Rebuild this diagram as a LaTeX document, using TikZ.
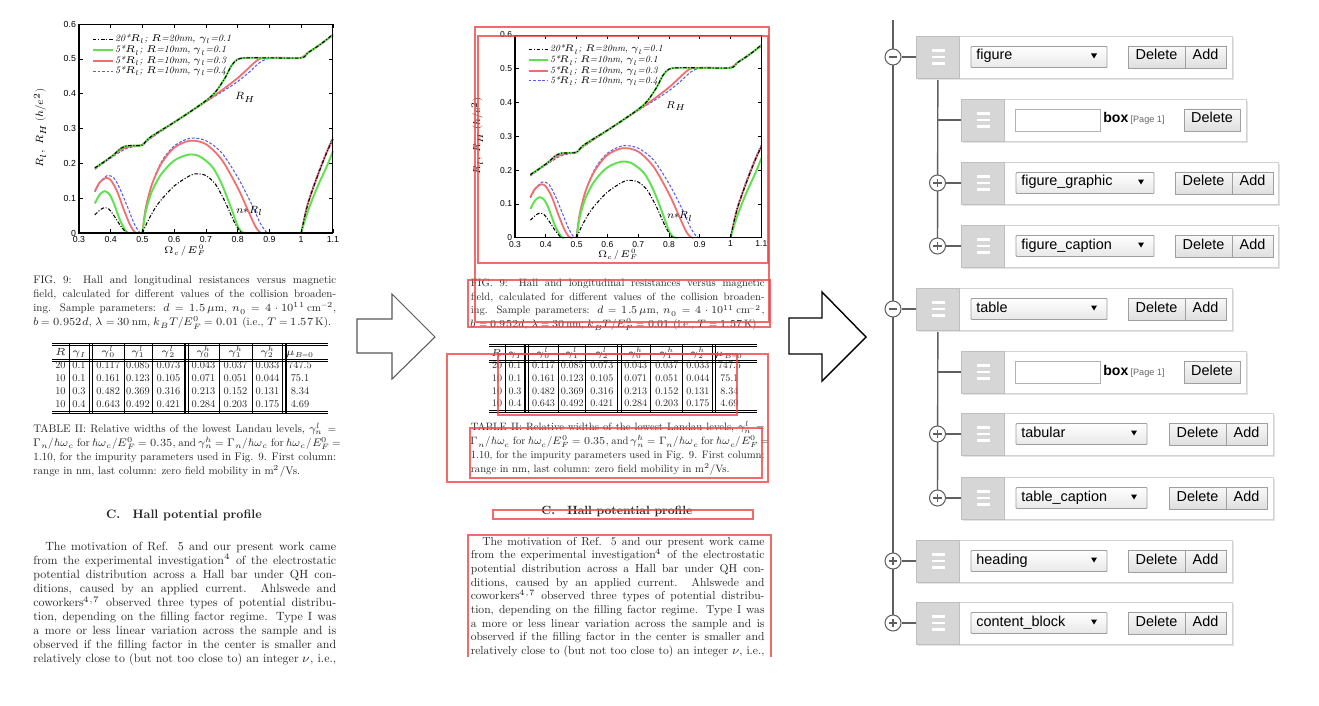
\documentclass[tikz,border=0pt]{standalone}
\usepackage{fontspec}
\usepackage{unicode-math}
\setmainfont{lmroman10-regular.otf}[BoldFont=lmroman10-bold.otf, ItalicFont=lmroman10-italic.otf, BoldItalicFont=lmroman10-bolditalic.otf]
\setmathfont{Latin Modern Math}
\newfontfamily\uifont{Liberation Sans}
\usetikzlibrary{backgrounds}
\definecolor{pgreen}{RGB}{95,225,80}
\definecolor{pred}{RGB}{240,110,110}
\definecolor{pblue}{RGB}{90,90,235}
\definecolor{boxred}{RGB}{238,70,70}
\definecolor{hgray}{RGB}{214,214,214}
\definecolor{tline}{RGB}{95,95,95}
\newlength\lw \setlength\lw{172.4pt}
\newcommand\jline[1]{\hbox to\lw{#1}}
\newcommand\lline[1]{\hbox to\lw{#1\hfil}}
\pgfdeclarelayer{bottom}
\pgfsetlayers{bottom,background,main}
\tikzset{
 ptxt/.style={anchor=base west, inner sep=0, font=\fontsize{6.8}{8}\selectfont, text=black!85},
 ctxt/.style={anchor=base west, inner sep=0, font=\fontsize{6.25}{8}\selectfont, text=black!85},
 tcell/.style={anchor=base, inner sep=0, font=\fontsize{5.9}{7}\selectfont, text=black!85},
 tick/.style={font=\uifont\fontsize{5}{6}\selectfont, inner sep=1pt},
 leg/.style={anchor=west, inner sep=0, font=\fontsize{5.6}{6}\selectfont\itshape},
 dashdot/.style={line width=0.6pt, dash pattern=on 2pt off 1pt on 0.6pt off 1pt},
 bdash/.style={pblue, line width=0.6pt, dash pattern=on 1.6pt off 1pt},
 handle/.style={rectangle, fill=hgray, draw=gray!50, line width=0.4pt, minimum width=0.86cm, minimum height=0.84cm, inner sep=0},
 panel/.style={draw=gray!35, fill=white, line width=0.5pt},
 sel/.style={draw=gray!75, line width=0.5pt, top color=white, bottom color=gray!18, rounded corners=0.5pt},
 btn/.style={draw=gray!75, line width=0.5pt, top color=gray!5, bottom color=gray!25},
 uitext/.style={font=\uifont\fontsize{8.2}{9}\selectfont, inner sep=0},
 tcirc/.style={circle, draw=gray!75!black, fill=white, line width=0.6pt, minimum size=0.32cm, inner sep=0},
 treeline/.style={draw=tline, line width=0.8pt},
 rbox/.style={draw=boxred, line width=0.85pt, draw opacity=0.8},
 blockarrow/.style={line width=0.6pt, fill=white}
}
\newcommand\minussym[1]{\draw[tline, line width=0.7pt] ([xshift=-2.4pt]#1.center) -- ([xshift=2.4pt]#1.center);}
\newcommand\plussym[1]{\draw[tline, line width=0.7pt] ([xshift=-2.4pt]#1.center) -- ([xshift=2.4pt]#1.center) ([yshift=-2.4pt]#1.center) -- ([yshift=2.4pt]#1.center);}
\newcommand\hamb[2]{\foreach \dy in {-6.5,0,6.5} \draw[white, line width=1.3pt] (#1+15.5,#2+\dy) -- (#1+28.5,#2+\dy);}
% name, y, hx, panel right, select right, label, delete left, add right
\newcommand\uirow[8]{%
 \fill[gray!22] (#3+2,#2-19) rectangle (#4+1.5,#2+23);
 \draw[panel] (#3+43,#2-21) rectangle (#4,#2+21);
 \node[handle, anchor=west] (h#1) at (#3,#2) {};
 \hamb{#3}{#2}
 \draw[sel] (#3+55,#2-10.5) rectangle (#5,#2+10.5);
 \node[uitext, anchor=base west] (s#1) at (#3+60,#2+3) {#6};
 \fill (#5-16,#2-3.5) -- (#5-10,#2-3.5) -- (#5-13,#2+1.5) -- cycle;
 \draw[btn] (#7,#2-11) rectangle (#7+57,#2+11);
 \draw[btn] (#7+57,#2-11) rectangle (#8,#2+11);
 \node[uitext, anchor=base] (d#1) at (#7+28.5,#2+3) {Delete};
 \node[uitext, anchor=base] (a#1) at ({(#7+57+#8)/2},#2+3) {Add};
}
% name, y, hx, panel right, delete left
\newcommand\boxrow[5]{%
 \fill[gray!22] (#3+2,#2-19) rectangle (#4+1.5,#2+23);
 \draw[panel] (#3+43,#2-21) rectangle (#4,#2+21);
 \node[handle, anchor=west] (h#1) at (#3,#2) {};
 \hamb{#3}{#2}
 \draw[draw=gray!60, fill=white, line width=0.5pt] (#3+54,#2-11) rectangle (#3+139,#2+11);
 \node[font=\uifont\bfseries\fontsize{8}{9}\selectfont, anchor=base west, inner sep=0] (b#1) at (#3+142,#2+3) {box};
 \node[font=\uifont\fontsize{5.2}{6}\selectfont, text=gray!80!black, anchor=base west, inner sep=0] (p#1) at (b#1.base east) {\,[Page 1]};
 \draw[btn] (#5,#2-11) rectangle (#5+56,#2+11);
 \node[uitext, anchor=base] (d#1) at (#5+28,#2+3) {Delete};
}
\newcommand\paperpage[1]{%
 \begin{scope}[shift={(-16.25,233)}, x=6.35cm, y=6.966cm]
  % upper curves
  \draw[bdash] plot[smooth] coordinates {(0.35,0.183) (0.40,0.215) (0.45,0.243) (0.50,0.252) (0.52,0.268) (0.60,0.317) (0.70,0.377) (0.75,0.405) (0.80,0.435) (0.84,0.465) (0.87,0.49) (0.9,0.502) (0.95,0.503) (1.0,0.503) (1.02,0.517) (1.05,0.535) (1.08,0.555) (1.1,0.57)};
  \draw[pred, line width=1pt] plot[smooth] coordinates {(0.35,0.185) (0.40,0.218) (0.44,0.243) (0.47,0.250) (0.50,0.253) (0.52,0.270) (0.60,0.318) (0.70,0.378) (0.75,0.41) (0.80,0.445) (0.83,0.47) (0.86,0.495) (0.88,0.502) (0.95,0.503) (1.0,0.503) (1.02,0.517) (1.05,0.535) (1.08,0.555) (1.1,0.568)};
  \draw[pgreen, line width=1.1pt] plot[smooth] coordinates {(0.35,0.187) (0.38,0.205) (0.41,0.225) (0.43,0.242) (0.45,0.25) (0.48,0.251) (0.50,0.253) (0.52,0.272) (0.55,0.29) (0.60,0.318) (0.65,0.348) (0.70,0.38) (0.73,0.405) (0.76,0.445) (0.78,0.48) (0.80,0.499) (0.83,0.503) (0.9,0.503) (1.0,0.503) (1.02,0.517) (1.05,0.535) (1.08,0.555) (1.1,0.568)};
  \draw[dashdot] plot[smooth] coordinates {(0.35,0.187) (0.38,0.205) (0.41,0.225) (0.43,0.242) (0.45,0.25) (0.48,0.251) (0.50,0.253) (0.52,0.272) (0.55,0.29) (0.60,0.318) (0.65,0.348) (0.70,0.38) (0.73,0.405) (0.76,0.445) (0.78,0.48) (0.80,0.499) (0.83,0.503) (0.9,0.503) (1.0,0.503) (1.02,0.517) (1.05,0.535) (1.08,0.555) (1.1,0.572)};
  % lower curves: blue
  \draw[bdash] plot[smooth] coordinates {(0.35,0.118) (0.37,0.15) (0.39,0.165) (0.41,0.158) (0.43,0.125) (0.455,0.07) (0.475,0.025) (0.49,0.003) (0.495,0)};
  \draw[bdash] plot[smooth] coordinates {(0.5,0) (0.51,0.07) (0.53,0.14) (0.56,0.205) (0.6,0.25) (0.65,0.272) (0.7,0.265) (0.75,0.23) (0.8,0.16) (0.84,0.09) (0.87,0.03) (0.89,0.003) (0.9,0)};
  \draw[bdash] plot[smooth] coordinates {(1.0,0) (1.02,0.085) (1.05,0.165) (1.08,0.235) (1.1,0.275)};
  % red
  \draw[pred, line width=1pt] plot[smooth] coordinates {(0.35,0.12) (0.365,0.145) (0.385,0.158) (0.40,0.152) (0.42,0.12) (0.44,0.07) (0.46,0.025) (0.475,0.003) (0.485,0)};
  \draw[pred, line width=1pt] plot[smooth] coordinates {(0.5,0) (0.51,0.07) (0.53,0.14) (0.56,0.2) (0.6,0.245) (0.65,0.265) (0.7,0.255) (0.75,0.21) (0.8,0.13) (0.83,0.07) (0.855,0.02) (0.87,0.002) (0.88,0)};
  \draw[pred, line width=1pt] plot[smooth] coordinates {(1.0,0) (1.02,0.08) (1.05,0.16) (1.08,0.23) (1.1,0.27)};
  % green
  \draw[pgreen, line width=1.1pt] plot[smooth] coordinates {(0.35,0.085) (0.365,0.11) (0.38,0.12) (0.395,0.112) (0.41,0.085) (0.43,0.035) (0.45,0.003) (0.46,0)};
  \draw[pgreen, line width=1.1pt] plot[smooth] coordinates {(0.5,0) (0.51,0.06) (0.53,0.12) (0.56,0.17) (0.6,0.208) (0.645,0.225) (0.68,0.22) (0.72,0.19) (0.75,0.14) (0.78,0.07) (0.8,0.02) (0.815,0.002) (0.83,0)};
  \draw[pgreen, line width=1.1pt] plot[smooth] coordinates {(1.0,0) (1.02,0.06) (1.05,0.13) (1.08,0.19) (1.1,0.235)};
  % black dash-dot
  \draw[dashdot] plot[smooth] coordinates {(0.35,0.052) (0.365,0.065) (0.38,0.073) (0.395,0.068) (0.41,0.05) (0.43,0.022) (0.445,0.005) (0.455,0)};
  \draw[dashdot] plot[smooth] coordinates {(0.5,0) (0.52,0.04) (0.55,0.085) (0.6,0.135) (0.65,0.165) (0.67,0.17) (0.7,0.165) (0.73,0.14) (0.76,0.09) (0.79,0.03) (0.81,0.002) (0.82,0)};
  \draw[dashdot] plot[smooth] coordinates {(1.0,0) (1.02,0.08) (1.05,0.16) (1.08,0.23) (1.1,0.27)};
  % frame and ticks
  \draw[line width=0.6pt] (0.3,0) rectangle (1.1,0.6);
  \foreach \t [count=\k] in {0.3,0.4,0.5,0.6,0.7,0.8,0.9,1,1.1} {
   \draw[line width=0.4pt] (\t,0) -- ++(0,0.012) (\t,0.6) -- ++(0,-0.012);
   \node[tick, anchor=north] (#1xt\k) at (\t,-0.004) {\t};}
  \foreach \t [count=\k] in {0,0.1,0.2,0.3,0.4,0.5,0.6} {
   \draw[line width=0.4pt] (0.3,\t) -- ++(0.012,0) (1.1,\t) -- ++(-0.012,0);
   \node[tick, anchor=east] (#1yt\k) at (0.297,\t) {\t};}
  % legend
  \draw[dashdot] (0.344,0.557) -- (0.407,0.557);
  \node[leg] (#1l1) at (0.413,0.557) {20*$R_l$; $R$=20nm, $\gamma_l$=0.1};
  \draw[pgreen, line width=1.1pt] (0.344,0.525) -- (0.407,0.525);
  \node[leg] (#1l2) at (0.413,0.525) {5*$R_l$; $R$=10nm, $\gamma_l$=0.1};
  \draw[pred, line width=1pt] (0.344,0.494) -- (0.407,0.494);
  \node[leg] (#1l3) at (0.413,0.494) {5*$R_l$; $R$=10nm, $\gamma_l$=0.3};
  \draw[bdash] (0.344,0.465) -- (0.407,0.465);
  \node[leg] (#1l4) at (0.413,0.465) {5*$R_l$; $R$=10nm, $\gamma_l$=0.4};
  \node[font=\fontsize{6}{7}\selectfont] (#1rh) at (0.823,0.39) {$R_H$};
  \node[font=\fontsize{6}{7}\selectfont] (#1nr) at (0.838,0.063) {$n{*}R_l$};
  \node[font=\fontsize{5.6}{7}\selectfont, inner sep=0] (#1xl) at (0.634,-0.05) {$\Omega_c\,/\,E_F^{\,0}$};
  \node[rotate=90, font=\fontsize{6}{7}\selectfont] (#1yl) at (0.177,0.301) {$R_l,\ R_H\ (h/e^2)$};
 \end{scope}
 % figure caption
 \node[ctxt] (#1c1) at (33,283) {\jline{FIG. 9: Hall and longitudinal resistances versus magnetic}};
 \node[ctxt] (#1c2) at (33,297.3) {\jline{field, calculated for different values of the collision broaden-}};
 \node[ctxt] (#1c3) at (33,311.6) {\jline{ing. Sample parameters: $d = 1.5\,\mu$m, $n_0 = 4\cdot10^{11}\,$cm$^{-2}$,}};
 \node[ctxt] (#1c4) at (33,325.9) {\lline{$b = 0.952d$, $\lambda = 30$\,nm, $k_BT/E_F^0 = 0.01$ (i.e., $T = 1.57$\,K).}};
 % table rules
 \draw[line width=0.5pt] (52,343) -- (328,343) (52,345.3) -- (328,345.3)
   (52,359.5) -- (328,359.5) (52,361.7) -- (328,361.7)
   (52,411.3) -- (328,411.3) (52,413.5) -- (328,413.5);
 \foreach \vx in {69,124,152,219,252} \draw[line width=0.5pt] (\vx,343) -- (\vx,413.5);
 \foreach \vx in {89.3,92.7,185,188.3,282.7,286} \draw[line width=0.6pt] (\vx,343) -- (\vx,413.5);
 \foreach \v/\x [count=\k] in {{$R$}/60.5,{$\gamma_I$}/79,{$\gamma_0^l$}/108.3,{$\gamma_1^l$}/138,{$\gamma_2^l$}/168.5,{$\gamma_0^h$}/203.5,{$\gamma_1^h$}/235.5,{$\gamma_2^h$}/267.5,{$\mu_{B=0}$}/300}
   \node[tcell] (#1h\k) at (\x,355) {\v};
 \foreach \v/\x [count=\k] in {20/60.5,0.1/79,0.117/108.3,0.085/138,0.073/168.5,0.043/203.5,0.037/235.5,0.033/267.5,747.5/300}
   \node[tcell] (#1a\k) at (\x,368) {\v};
 \foreach \v/\x [count=\k] in {10/60.5,0.1/79,0.161/108.3,0.123/138,0.105/168.5,0.071/203.5,0.051/235.5,0.044/267.5,75.1/300}
   \node[tcell] (#1b\k) at (\x,381) {\v};
 \foreach \v/\x [count=\k] in {10/60.5,0.3/79,0.482/108.3,0.369/138,0.316/168.5,0.213/203.5,0.152/235.5,0.131/267.5,8.34/300}
   \node[tcell] (#1c\k) at (\x,394.5) {\v};
 \foreach \v/\x [count=\k] in {10/60.5,0.4/79,0.643/108.3,0.492/138,0.421/168.5,0.284/203.5,0.203/235.5,0.175/267.5,4.69/300}
   \node[tcell] (#1d\k) at (\x,407.5) {\v};
 % table caption
 \node[ctxt] (#1t1) at (33,432) {\jline{TABLE II: Relative widths of the lowest Landau levels, $\gamma_n^l$ =}};
 \node[ctxt] (#1t2) at (33,446.2) {\jline{$\Gamma_n/\hbar\omega_c$ for $\hbar\omega_c/E_F^0 = 0.35$, and $\gamma_n^h = \Gamma_n/\hbar\omega_c$ for $\hbar\omega_c/E_F^0$ =}};
 \node[ctxt] (#1t3) at (33,460.4) {\jline{1.10, for the impurity parameters used in Fig. 9. First column:}};
 \node[ctxt] (#1t4) at (33,474.6) {\lline{range in nm, last column: zero field mobility in m$^2$/Vs.}};
 % heading
 \node[anchor=base, inner sep=0, font=\fontsize{7}{8}\selectfont\bfseries, text=black!85] (#1hd) at (184,518) {C.\quad Hall potential profile};
 % paragraph
 \node[ptxt] (#1p1) at (33,550) {\jline{\hspace*{1em}The motivation of Ref. 5 and our present work came}};
 \node[ptxt] (#1p2) at (33,564.1) {\jline{from the experimental investigation$^4$ of the electrostatic}};
 \node[ptxt] (#1p3) at (33,578.2) {\jline{potential distribution across a Hall bar under QH con-}};
 \node[ptxt] (#1p4) at (33,592.3) {\jline{ditions, caused by an applied current.\ \ Ahlswede and}};
 \node[ptxt] (#1p5) at (33,606.4) {\jline{coworkers$^{4,7}$ observed three types of potential distribu-}};
 \node[ptxt] (#1p6) at (33,620.5) {\jline{tion, depending on the filling factor regime. Type I was}};
 \node[ptxt] (#1p7) at (33,634.6) {\jline{a more or less linear variation across the sample and is}};
 \node[ptxt] (#1p8) at (33,648.7) {\jline{observed if the filling factor in the center is smaller and}};
 \node[ptxt] (#1p9) at (33,662.8) {\jline{relatively close to (but not too close to) an integer $\nu$, i.e.,}};
}
\begin{document}
\begin{tikzpicture}[x=0.02cm, y=-0.02cm]
\begin{pgfonlayer}{bottom}
 \fill[white] (0,0) rectangle (1319,706);
\end{pgfonlayer}
\useasboundingbox (0,0) rectangle (1319,706);
% left page
\paperpage{L}
% middle page
\begin{scope}[shift={(438.4,11.7)}, scale=0.97, transform shape]
 \clip (-20,-20) rectangle (360,665.3);
 \paperpage{M}
\end{scope}
% red boxes
\draw[rbox] (475,27) rectangle (769,322);
\draw[rbox] (478,36) rectangle (768,263);
\draw[rbox] (468,280) rectangle (770,327);
\draw[rbox] (447,354) rectangle (768,482);
\draw[rbox] (498,354) rectangle (737,415);
\draw[rbox] (470,428) rectangle (762,478);
\draw[rbox] (493,510) rectangle (753,519);
\draw[rbox] (468,657) -- (468,535) -- (771,535) -- (771,657);
% block arrows
\draw[blockarrow, draw=gray!70!black] (357,319) -- (392,319) -- (392,294) -- (435,337) -- (392,379) -- (392,353) -- (357,353) -- cycle;
\draw[blockarrow, draw=black, line width=0.8pt] (789,318) -- (822,318) -- (822,292) -- (866,337) -- (822,381) -- (822,354) -- (789,354) -- cycle;
% tree rows
\uirow{fig}{57}{916}{1232}{1107}{figure}{1128}{1226}
\boxrow{fbox}{120}{961}{1246}{1184}
\uirow{fgr}{183}{961}{1278}{1154}{figure\_graphic}{1175}{1273}
\uirow{fcap}{246}{961}{1278}{1154}{figure\_caption}{1175}{1273}
\uirow{tab}{309}{916}{1232}{1107}{table}{1128}{1226}
\boxrow{tbox}{372}{961}{1246}{1184}
\uirow{ttab}{434}{961}{1273}{1147}{tabular}{1169}{1267}
\uirow{tcap}{498}{961}{1273}{1147}{table\_caption}{1169}{1267}
\uirow{head}{561}{916}{1232}{1107}{heading}{1128}{1226}
\uirow{cont}{623}{916}{1232}{1107}{content\_block}{1128}{1226}
% circles
\node[tcirc] (cfig) at (893,57) {};
\node[tcirc] (ctab) at (893,309) {};
\node[tcirc] (chead) at (893,561) {};
\node[tcirc] (ccont) at (893,623) {};
\node[tcirc] (cfgr) at (937.5,183) {};
\node[tcirc] (cfcap) at (937.5,246) {};
\node[tcirc] (cttab) at (937.5,434) {};
\node[tcirc] (ctcap) at (937.5,498) {};
\minussym{cfig} \minussym{ctab}
\plussym{chead} \plussym{ccont} \plussym{cfgr} \plussym{cfcap} \plussym{cttab} \plussym{ctcap}
% connectors
\begin{pgfonlayer}{background}
 \coordinate (ttop) at (893,20);
 \draw[treeline] (ttop) -- (ccont.center);
 \foreach \nm in {fig,tab,head,cont,fgr,fcap,ttab,tcap} \draw[treeline] (c\nm.east) -- (h\nm.west);
 \draw[treeline] (hfig.south) -- (cfcap.center);
 \draw[treeline] (htab.south) -- (ctcap.center);
 \draw[treeline] (hfig.south |- hfbox.west) -- (hfbox.west);
 \draw[treeline] (htab.south |- htbox.west) -- (htbox.west);
\end{pgfonlayer}
\end{tikzpicture}
\end{document}
